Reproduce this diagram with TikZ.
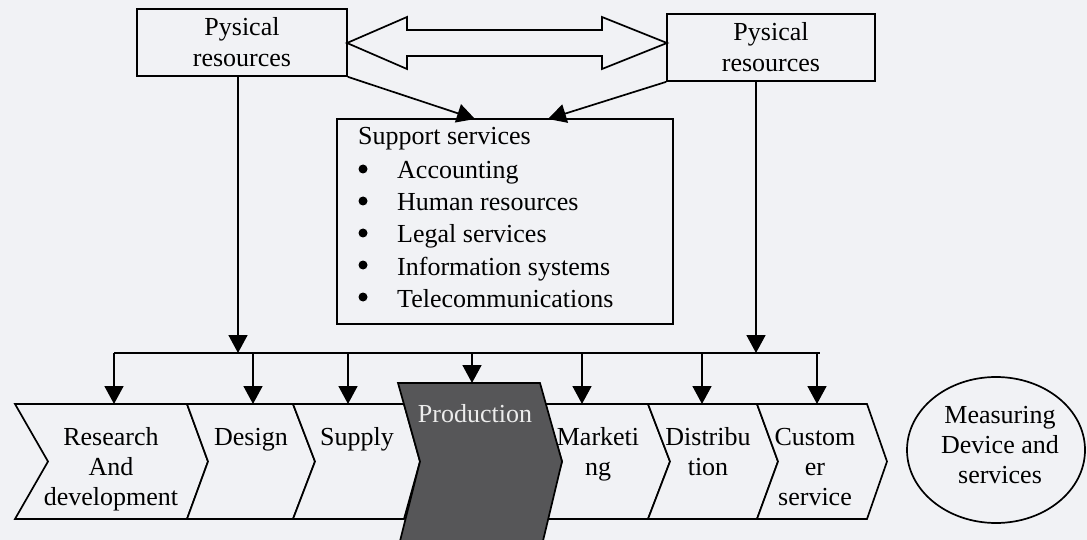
\documentclass[tikz,border=0pt]{standalone}
\usepackage{fontspec}
\setmainfont{Liberation Serif}
\usetikzlibrary{arrows.meta,shapes.geometric}
\definecolor{paper}{RGB}{241,242,245}
\definecolor{prodgray}{RGB}{86,86,88}
\definecolor{prodtext}{RGB}{236,236,236}
% centred lines whose baseline is that of the first line
\newcommand\linestack[1]{\vtop{\halign{\hfil##\hfil\cr#1\crcr}}}
\begin{document}
\begin{tikzpicture}[x=1pt,y=-1pt,
  every node/.style={inner sep=0pt, font=\fontsize{26}{31}\selectfont},
  ink/.style={line width=1.7pt, draw=black},
  flow/.style={ink, -{Triangle[length=18pt,width=19pt]}},
  resbox/.style={ink, rectangle, minimum height=67pt},
  chev/.style={ink, fill=paper, line join=miter},
  lbl/.style={anchor=base, font=\fontsize{26}{30}\selectfont},
  bulletdot/.style={circle, fill=black, minimum size=9pt},
  itemtext/.style={anchor=base west}]

\fill[paper] (0,0) rectangle (1087,540);
\useasboundingbox (0,0) rectangle (1087,540);

% physical resource boxes
\node[resbox, minimum width=210pt] (resL) at (242,42.5) {\linestack{Pysical\cr resources}};
\node[resbox, minimum width=208pt] (resR) at (771,47.5) {\linestack{Pysical\cr resources}};

% double block arrow between the two resource boxes
\draw[ink, fill=paper, line join=miter]
  (347,43) -- (407,17) -- (407,30) -- (602,30) -- (602,17) -- (667,43)
  -- (602,69) -- (602,56) -- (407,56) -- (407,69) -- cycle;

% support services box
\node[ink, rectangle, minimum width=336pt, minimum height=205pt] (sup) at (505,221.5) {};
\node[anchor=base west] (supHead) at (358,145) {Support services};
\foreach \t/\y [count=\i] in {Accounting/179, Human resources/211,
    Legal services/243, Information systems/275, Telecommunications/307} {
  \node[bulletdot] (b\i) at (363,{\y-10}) {};
  \node[itemtext] (it\i) at (397,\y) {\t};
}

% resources feed the support services
\coordinate (supInL) at (475,119);
\coordinate (supInR) at (548,119);
\draw[flow] (resL.south east) -- (supInL);
\draw[flow] (resR.south west) -- (supInR);

% distribution bus above the value chain
\coordinate (busW) at (114,353);
\coordinate (busE) at (820,353);
\coordinate (busInL) at (238,353);
\coordinate (busInR) at (756,353);
\draw[flow] ([xshift=-4pt]resL.south) -- (busInL);
\draw[flow] ([xshift=-15pt]resR.south) -- (busInR);
\draw[ink] (busW) -- (busE);

% value chain stages
\draw[chev] (15,404) -- (187,404) -- (208,461.5) -- (187,519) -- (15,519) -- (48,461.5) -- cycle;
\draw[chev] (187,404) -- (293,404) -- (315,461.5) -- (293,519) -- (187,519) -- (208,461.5) -- cycle;
\draw[chev] (293,404) -- (404,404) -- (420,461.5) -- (404,519) -- (293,519) -- (315,461.5) -- cycle;
\draw[chev] (545,404) -- (648,404) -- (670,461.5) -- (648,519) -- (545,519) -- (562,461.5) -- cycle;
\draw[chev] (648,404) -- (757,404) -- (778,461.5) -- (757,519) -- (648,519) -- (670,461.5) -- cycle;
\draw[chev] (757,404) -- (867,404) -- (887,461.5) -- (867,519) -- (757,519) -- (778,461.5) -- cycle;
% highlighted production stage
\draw[ink, fill=prodgray, line join=miter]
  (398,383) -- (540,383) -- (562,461.5) -- (542,545) -- (399,545) -- (420,461.5) -- cycle;

% drops from the bus into each stage
\foreach \x/\y [count=\i] in {114/404, 253/404, 348/404, 472/383, 582/404, 702/404, 817/404} {
  \coordinate (tap\i) at (\x,353);
  \coordinate (stage\i) at (\x,\y);
  \draw[flow] (tap\i) -- (stage\i);
}

% stage labels
\node[lbl] (tRD) at (111,445) {\linestack{Research\cr And\cr development}};
\node[lbl] (tDes) at (251,445) {Design};
\node[lbl] (tSup) at (357,445) {Supply};
\node[lbl, text=prodtext] (tProd) at (475,422) {Production};
\node[lbl] (tMkt) at (598,445) {\linestack{Marketi\cr ng}};
\node[lbl] (tDist) at (708,445) {\linestack{Distribu\cr tion}};
\node[lbl] (tCust) at (815,445) {\linestack{Custom\cr er\cr service}};

% measuring ellipse
\node[ink, ellipse, minimum width=178pt, minimum height=146pt] (meas) at (996,450) {};
\node[lbl] (measT) at (1000,423) {\linestack{Measuring\cr Device and\cr services}};
\end{tikzpicture}
\end{document}
